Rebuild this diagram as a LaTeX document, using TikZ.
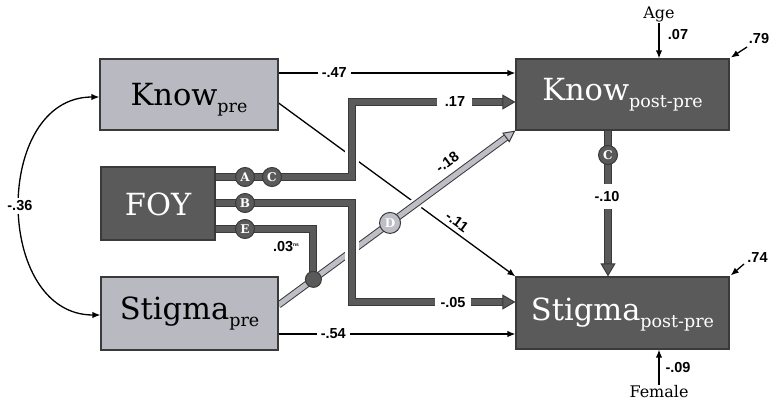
\documentclass[tikz,border=0pt]{standalone}
\usepackage{fontspec}
\setmainfont{DejaVu Serif}
\newfontfamily\numfont{Liberation Sans}
\usetikzlibrary{arrows.meta,backgrounds,calc}
\definecolor{lbox}{HTML}{B9B9C1}
\definecolor{dbox}{HTML}{5A5A5A}
\definecolor{bord}{HTML}{3A3A3A}
\definecolor{gline}{HTML}{BEBEC6}
\newcommand{\lowsub}[1]{\raisebox{-7pt}{\fontsize{17.5}{17.5}\selectfont #1}}
\tikzset{
  boxbase/.style={draw=bord, line width=1.2pt, inner sep=0pt, text depth=0pt,
    font=\fontsize{30.5}{30.5}\selectfont},
  lightbox/.style={boxbase, fill=lbox, text=black},
  darkbox/.style={boxbase, fill=dbox, text=white},
  num/.style={font=\numfont\bfseries\fontsize{14.5}{14.5}\selectfont, inner sep=2pt},
  ctext/.style={font=\fontsize{16}{16}\selectfont, inner sep=1pt},
  tarrow/.style={line width=1.3pt, -{Latex[length=8pt,width=6.5pt]}},
  halo/.style={white, line width=14pt, line join=miter},
  ghalo/.style={white, line width=12pt},
  dpath/.style={draw=bord, line width=1pt, double=dbox, double distance=6pt, line join=miter},
  gpath/.style={draw=bord, line width=1pt, double=gline, double distance=5pt},
  dhead/.style={draw=bord, line width=1pt, -{Triangle[length=13pt,width=15pt,fill=dbox]}},
  ghead/.style={draw=bord, line width=1pt, -{Triangle[length=12pt,width=12pt,fill=gline]}},
  circ/.style={circle, draw=bord, fill=dbox, line width=1pt, minimum size=19pt, inner sep=0pt,
    text=white, font=\bfseries\fontsize{12}{12}\selectfont},
  lcirc/.style={circ, fill=gline, minimum size=21pt},
  dotnode/.style={circle, draw=bord, fill=dbox, line width=1pt, minimum size=16pt, inner sep=0pt}
}
\begin{document}
\begin{tikzpicture}[x=1pt,y=-1pt]
\useasboundingbox (0,0) rectangle (773,407);
% boxes
\node[lightbox, minimum width=178pt, minimum height=71pt, text height=21pt] (KnowPre) at (189,94.5) {Know\lowsub{pre}};
\node[darkbox, minimum width=114pt, minimum height=73pt, text height=23pt] (FOY) at (158,203.5) {FOY};
\node[lightbox, minimum width=177pt, minimum height=73pt, text height=11pt] (StigmaPre) at (189.5,313.5) {Stigma\lowsub{pre}};
\node[darkbox, minimum width=213pt, minimum height=71pt, text height=12.4pt] (KnowPost) at (622.5,94.5) {Know\lowsub{post-pre}};
\node[darkbox, minimum width=213pt, minimum height=72pt, text height=14pt] (StigmaPost) at (622.5,313) {Stigma\lowsub{post-pre}};
% outside texts
\node[ctext] (age) at (659,14) {Age};
\node[ctext] (female) at (659,392) {Female};
\node[num] (n07) at (678,35) {.07};
\node[num] (n09) at (678,368) {-.09};
\node[num] (n79) at (759,39) {.79};
\node[num] (n74) at (757.5,258) {.74};
\coordinate (e79) at (747,47);
\coordinate (e74) at (744,264);
\coordinate (gs) at (StigmaPre.east |- 0,305);
\coordinate (edot) at ($(gs)!0.147!(KnowPost.south west)$);

\begin{pgfonlayer}{background}
% thin black paths
\draw[tarrow] (KnowPre.east |- 0,73) -- node[num, fill=white, inner sep=4pt, pos=0.235]{-.47} (KnowPost.west |- 0,73);
\draw[tarrow] (KnowPre.east |- 0,103) -- node[num, sloped, above=2pt, pos=0.73]{-.11} (StigmaPost.north west);
\draw[tarrow] (StigmaPre.east |- 0,334) -- node[num, fill=white, inner sep=4pt, pos=0.231]{-.54} (StigmaPost.west |- 0,334);
\draw[line width=1.3pt, {Latex[length=8pt,width=6.5pt]}-{Latex[length=8pt,width=6.5pt]}]
  (KnowPre.west |- 0,97) to[out=180,in=180,looseness=1.25] node[num, fill=white, inner sep=3pt, pos=0.5]{-.36} (StigmaPre.west |- 0,315);
\draw[tarrow] (age.south) -- (KnowPost.north -| age.south);
\draw[tarrow] (female.north) -- (StigmaPost.south -| female.north);
\draw[tarrow, shorten >=1.5pt] (e79) -- (KnowPost.north east);
\draw[tarrow, shorten >=1.5pt] (e74) -- (StigmaPost.north east);
% light gray path StigmaPre -> KnowPost
\draw[ghalo] (gs) -- ($(KnowPost.south west)!6pt!(gs)$);
\draw[gpath] (gs) -- ($(KnowPost.south west)!11pt!(gs)$);
\draw[ghead] ($(KnowPost.south west)!12pt!(gs)$) -- (KnowPost.south west);
\path (gs) -- (KnowPost.south west) node[num, sloped, above=8pt, pos=0.75]{-.18};
% FOY path A/C
\draw[halo] (FOY.east |- 0,177) -- (352,177) -- (352,102) -- (437,102);
\draw[dpath] (FOY.east |- 0,177) -- (352,177) -- (352,102) -- (437,102);
\node[num] (n17) at (455,102) {.17};
\draw[dpath] (472,102) -- ($(KnowPost.west |- 0,102)+(-12,0)$);
\draw[dhead] ($(KnowPost.west |- 0,102)+(-13,0)$) -- (KnowPost.west |- 0,102);
% FOY path B
\draw[halo] (FOY.east |- 0,203) -- (352,203) -- (352,302) -- (435,302);
\draw[dpath] (FOY.east |- 0,203) -- (352,203) -- (352,302) -- (435,302);
\node[num] (n05) at (453,303) {-.05};
\draw[dpath] (471,302) -- ($(StigmaPost.west |- 0,302)+(-12,0)$);
\draw[dhead] ($(StigmaPost.west |- 0,302)+(-13,0)$) -- (StigmaPost.west |- 0,302);
% FOY path E
\draw[dpath] (FOY.east |- 0,229) -- (edot |- 0,229) -- (edot);
\node[num] (n03) at (286,247) {.03\raisebox{5pt}{\fontsize{5}{5}\selectfont ns}};
% KnowPost -> StigmaPost
\draw[dpath] (KnowPost.south -| 608,0) -- (608,184);
\node[num] (n10) at (607,197) {-.10};
\draw[dpath] (608,209) -- ($(StigmaPost.north -| 608,0)+(0,-12)$);
\draw[dhead] ($(StigmaPost.north -| 608,0)+(0,-13)$) -- (StigmaPost.north -| 608,0);
\end{pgfonlayer}
% circles
\node[lcirc] (D) at ($(gs)!0.4706!(KnowPost.south west)$) {D};
\node[dotnode] (Edot) at (edot) {};
\node[circ] (A) at (245,177) {A};
\node[circ] (C1) at (272,177) {C};
\node[circ] (B) at (245,203) {B};
\node[circ] (E) at (245,229) {E};
\node[circ] (C2) at (608,155) {C};
\end{tikzpicture}
\end{document}
